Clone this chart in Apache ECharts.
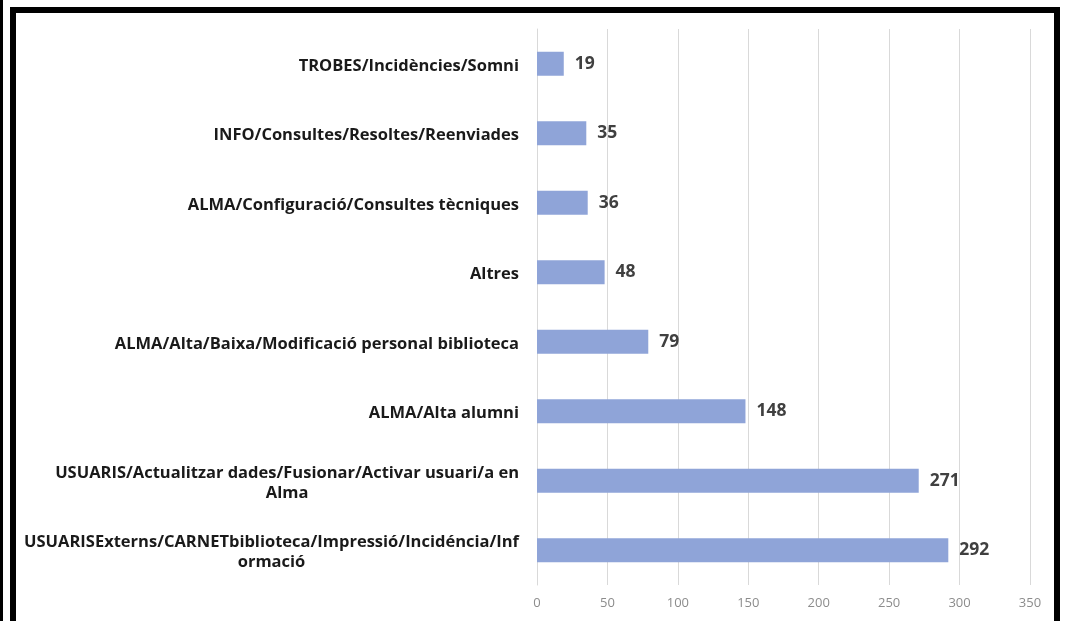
<!DOCTYPE html>
<html>
<head>
<meta charset="utf-8">
<script src="https://cdn.jsdelivr.net/npm/echarts@6/dist/echarts.min.js"></script>
<style>
  html, body { margin: 0; padding: 0; background: #fff; }
  #wrap { position: relative; width: 1065px; height: 621px; overflow: hidden; }
  #strip { position: absolute; left: 0; top: 0; width: 3px; height: 621px; background: #000; }
  #frame { position: absolute; left: 10px; top: 7px; width: 1038px; height: 640px;
           border: 6px solid #000; border-bottom: none; }
  #chart { position: absolute; left: 0; top: 0; width: 1065px; height: 621px; }
</style>
</head>
<body>
<div id="wrap">
  <div id="strip"></div>
  <div id="frame"></div>
  <div id="chart"></div>
</div>
<script>
const categories = [
  'TROBES/Incidències/Somni',
  'INFO/Consultes/Resoltes/Reenviades',
  'ALMA/Configuració/Consultes tècniques',
  'Altres',
  'ALMA/Alta/Baixa/Modificació personal biblioteca',
  'ALMA/Alta alumni',
  'USUARIS/Actualitzar dades/Fusionar/Activar usuari/a en\nAlma',
  'USUARISExterns/CARNETbiblioteca/Impressió/Incidéncia/Inf\normació'
];
const counts = [19, 35, 36, 48, 79, 148, 271, 292];

const labelFont = 'Open Sans';
const chart = echarts.init(document.getElementById('chart'));
chart.setOption({
  animation: false,
  grid: { left: 537, right: 35, top: 29, bottom: 36, containLabel: false, outerBoundsMode: 'none' },
  xAxis: {
    type: 'value', min: 0, max: 350, interval: 50,
    axisLine: { show: false }, axisTick: { show: false },
    splitLine: { lineStyle: { color: '#d9d9d9', width: 1 } },
    axisLabel: { color: '#8c8c8c', fontSize: 13, fontFamily: 'Open Sans', margin: 12 }
  },
  yAxis: {
    type: 'category', inverse: true, data: categories,
    axisLine: { show: true, lineStyle: { color: '#d9d9d9' } },
    axisTick: { show: false },
    axisLabel: {
      margin: 18, color: '#1a1a1a', fontSize: 16.5, fontWeight: 'bold', fontFamily: labelFont,
      lineHeight: 20, padding: [5, 0, 0, 0],
      formatter: v => v.split('\n').map(s => '{c|' + s + '}').join('\n'),
      rich: { c: { align: 'center', fontSize: 16.5, fontWeight: 'bold', fontFamily: labelFont, color: '#1a1a1a', lineHeight: 20 } }
    }
  },
  series: [{
    type: 'bar', data: counts, barWidth: 24,
    itemStyle: { color: '#8fa4d8' },
    label: { show: true, position: 'right', distance: 11, color: '#404040',
             fontSize: 17.5, fontWeight: 'bold', fontFamily: 'Open Sans' }
  }]
});
</script>
</body>
</html>
